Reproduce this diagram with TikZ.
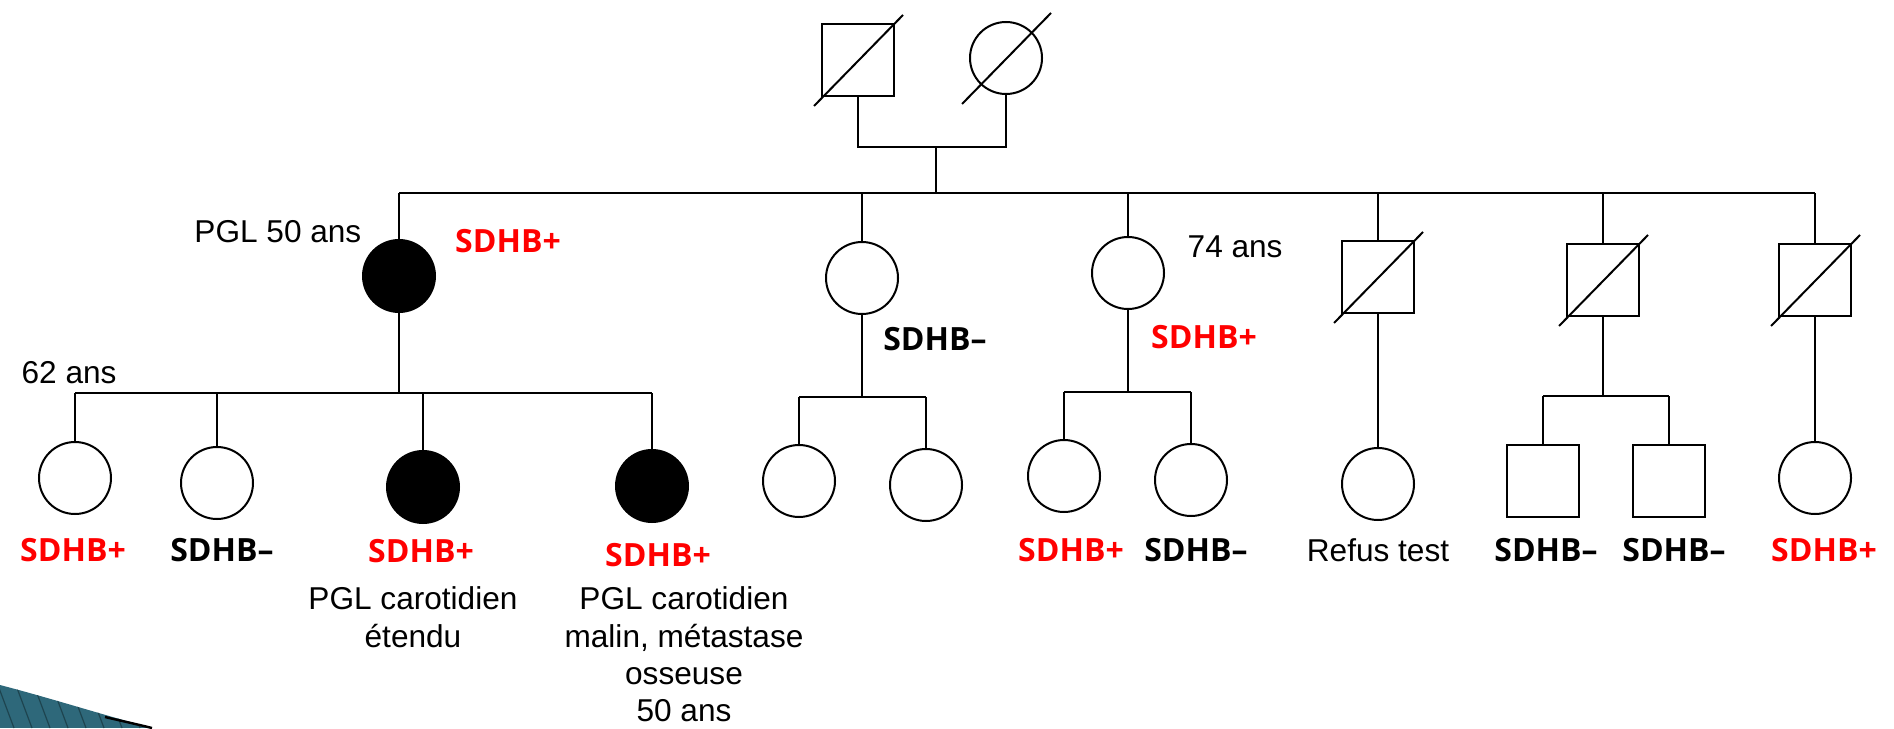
\documentclass[tikz,border=0pt]{standalone}
\usepackage{fontspec}
\setmainfont{Liberation Sans}
\newfontfamily\sdhbfont{Open Sans}
\usetikzlibrary{calc}
\definecolor{sdhbred}{RGB}{255,0,0}
\definecolor{slideteal}{RGB}{46,104,122}
\tikzset{
  female/.style={circle, draw, line width=1pt, minimum size=36pt, inner sep=0pt},
  male/.style={rectangle, draw, line width=1pt, minimum size=36pt, inner sep=0pt},
  affected/.style={fill=black},
  sdhbpos/.style={text=sdhbred, font=\sdhbfont\bfseries\fontsize{16}{18}\selectfont},
  sdhbneg/.style={text=black, font=\sdhbfont\bfseries\fontsize{16}{18}\selectfont},
  note/.style={font=\fontsize{15.8}{18.6}\selectfont, align=center},
}

\begin{document}
\begin{tikzpicture}[x=0.5pt, y=-0.5pt, line width=1pt]
\useasboundingbox (0,0) rectangle (1894,728);

% slide corner
\begin{scope}
\clip (0,685) .. controls (50,698) and (100,714) .. (152,728) -- (0,728) -- cycle;
\fill[slideteal] (0,680) rectangle (160,728);
\foreach \i in {-40,-22,...,160} \draw[slideteal!65!black, line width=0.6pt] (\i,680) -- (\i+18,728);
\end{scope}
\draw[line width=1.2pt] (105,717) .. controls (122,721) and (136,724) .. (152,728);

% generation I
\node[male] (gf) at (858,60) {};
\node[female] (gm) at (1006,58) {};
\coordinate (cpl) at (936,147);
\coordinate (sib) at (936,193);
\draw (gf.south) |- (cpl) -| (gm.south);
\draw (cpl) -- (sib);

% generation II
\node[female, affected] (p1) at (399,276) {};
\node[female] (p2) at (862,278) {};
\node[female] (p3) at (1128,273) {};
\node[male] (p4) at (1378,277) {};
\node[male] (p5) at (1603,280) {};
\node[male] (p6) at (1815,280) {};
\draw (p1 |- sib) -- (p6 |- sib);
\foreach \n in {p1,p2,p3,p4,p5,p6} \draw (\n |- sib) -- (\n.north);

% generation III
\node[female] (c1) at (75,478) {};
\node[female] (c2) at (217,483) {};
\node[female, affected] (c3) at (423,487) {};
\node[female, affected] (c4) at (652,486) {};
\node[female] (d1) at (799,481) {};
\node[female] (d2) at (926,485) {};
\node[female] (e1) at (1064,476) {};
\node[female] (e2) at (1191,480) {};
\node[female] (f1) at (1378,484) {};
\node[male] (g1) at (1543,481) {};
\node[male] (g2) at (1669,481) {};
\node[female] (h1) at (1815,478) {};

\coordinate (kc) at (0,393);
\coordinate (kd) at (0,397);
\coordinate (ke) at (0,392);
\coordinate (kg) at (0,396);
\draw (p1.south) -- (p1 |- kc);
\draw (c1 |- kc) -- (c4 |- kc);
\foreach \n in {c1,c2,c3,c4} \draw (\n |- kc) -- (\n.north);
\draw (p2.south) -- (p2 |- kd);
\draw (d1 |- kd) -- (d2 |- kd);
\foreach \n in {d1,d2} \draw (\n |- kd) -- (\n.north);
\draw (p3.south) -- (p3 |- ke);
\draw (e1 |- ke) -- (e2 |- ke);
\foreach \n in {e1,e2} \draw (\n |- ke) -- (\n.north);
\draw (p4.south) -- (f1.north);
\draw (p5.south) -- (p5 |- kg);
\draw (g1 |- kg) -- (g2 |- kg);
\foreach \n in {g1,g2} \draw (\n |- kg) -- (\n.north);
\draw (p6.south) -- (h1.north);

% deceased
\foreach \n in {gf,gm,p4,p5,p6} \draw ($(\n)+(-44,46)$) -- ($(\n)+(45,-45)$);

% labels
\node[note, anchor=base east] (a1) at (369,242) {PGL 50 ans};
\node[sdhbpos, anchor=base] (s1) at (508,252) {SDHB+};
\node[note, anchor=base west] (a2) at (14,383) {62 ans};
\node[sdhbneg, anchor=base] (s2) at (935,350) {SDHB–};
\node[note, anchor=base west] (a3) at (1180,257) {74 ans};
\node[sdhbpos, anchor=base] (s3) at (1204,348) {SDHB+};

\node[sdhbpos, anchor=base] (sc1) at (73,561) {SDHB+};
\node[sdhbneg, anchor=base] (sc2) at (222,561) {SDHB–};
\node[sdhbpos, anchor=base] (sc3) at (421,562) {SDHB+};
\node[sdhbpos, anchor=base] (sc4) at (658,566) {SDHB+};
\node[sdhbpos, anchor=base] (se1) at (1071,561) {SDHB+};
\node[sdhbneg, anchor=base] (se2) at (1196,561) {SDHB–};
\node[note, anchor=base] (sf1) at (1378,561) {Refus test};
\node[sdhbneg, anchor=base] (sg1) at (1546,561) {SDHB–};
\node[sdhbneg, anchor=base] (sg2) at (1674,561) {SDHB–};
\node[sdhbpos, anchor=base] (sh1) at (1824,561) {SDHB+};

\node[note, anchor=north, inner sep=0pt] (n3) at (413,586) {PGL carotidien\\étendu};
\node[note, anchor=north, inner sep=0pt] (n4) at (684,586) {PGL carotidien\\malin, métastase\\osseuse\\50 ans};
\end{tikzpicture}
\end{document}
